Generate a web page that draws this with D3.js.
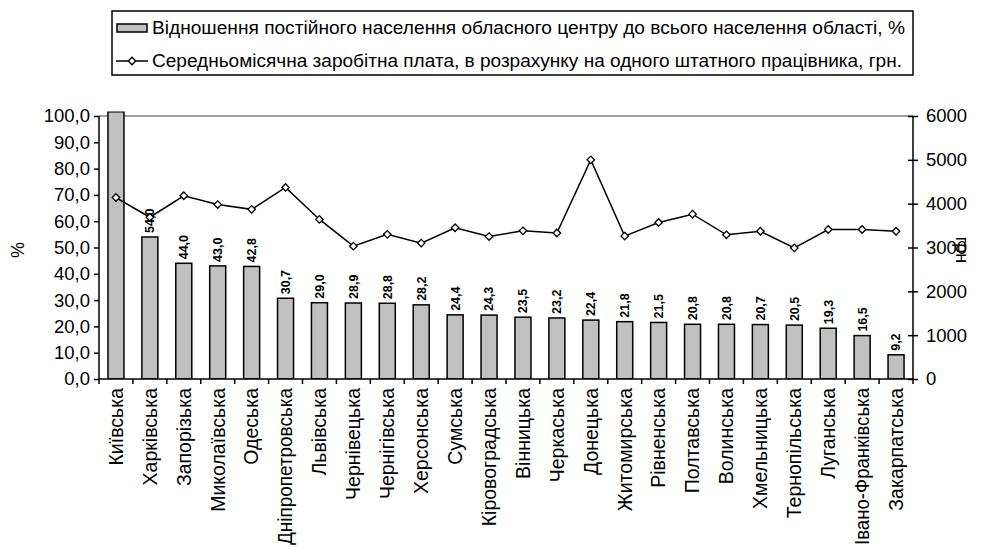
<!DOCTYPE html>
<html><head><meta charset="utf-8">
<script src="https://cdn.jsdelivr.net/npm/d3@7"></script>
<style>
body{margin:0;background:#fff}
text{font-family:"Liberation Sans",Arial,sans-serif;fill:#000}
</style></head>
<body><svg id="c" width="990" height="548"></svg>
<script>
const categories=["Київська","Харківська","Запорізька","Миколаївська","Одеська","Дніпропетровська","Львівська","Чернівецька","Чернігівська","Херсонська","Сумська","Кіровоградська","Вінницька","Черкаська","Донецька","Житомирська","Рівненська","Полтавська","Волинська","Хмельницька","Тернопільська","Луганська","Івано-Франківська","Закарпатська"];
const shareValues=[101.6,54.0,44.0,43.0,42.8,30.7,29.0,28.9,28.8,28.2,24.4,24.3,23.5,23.2,22.4,21.8,21.5,20.8,20.8,20.7,20.5,19.3,16.5,9.2];
const wageValues=[4140,3690,4180,3980,3870,4370,3640,3030,3300,3100,3450,3250,3380,3330,5000,3260,3570,3760,3290,3370,2990,3410,3410,3370];
const leftTicks=[0,10,20,30,40,50,60,70,80,90,100];
const rightTicks=[0,1000,2000,3000,4000,5000,6000];
const legendLabels=["Відношення постійного населення обласного центру до всього населення області, %","Середньомісячна заробітна плата, в розрахунку на одного штатного працівника, грн."];
const leftTitle="%", rightTitle="грн";

const L=99,R=913,T=116,B=379;
const svg=d3.select("#c");
const x=d3.scaleBand().domain(categories).range([L,R]).padding(0);
const yL=d3.scaleLinear().domain([0,100]).range([B,T]);
const yR=d3.scaleLinear().domain([0,6000]).range([B,T]);
const fmt=v=>d3.format(".1f")(v).replace(".",",");
const cx=i=>x(categories[i])+x.bandwidth()/2;

svg.append("line").attr("x1",L).attr("x2",R).attr("y1",T).attr("y2",T).attr("stroke","#808080").attr("stroke-width",1.5);

svg.append("clipPath").attr("id","clipb").append("rect").attr("x",L).attr("y",T-4.5).attr("width",R-L).attr("height",B-T+4.5);

const bw=16;
svg.append("g").attr("clip-path","url(#clipb)").selectAll("rect").data(shareValues).join("rect")
  .attr("x",(d,i)=>cx(i)-bw/2)
  .attr("y",d=>yL(d)).attr("width",bw).attr("height",d=>B-yL(d))
  .attr("fill","#c0c0c0").attr("stroke","#000").attr("stroke-width",1.5);

svg.append("g").selectAll("text").data(shareValues).join("text")
  .attr("transform",(d,i)=>`translate(${cx(i)},${yL(d)-4}) rotate(-90)`)
  .attr("dy","0.35em").attr("font-size",12.5).attr("font-weight","bold")
  .text(d=>d<=100?fmt(d):"");

const line=d3.line().x((d,i)=>cx(i)).y(d=>yR(d));
svg.append("path").datum(wageValues).attr("d",line).attr("fill","none").attr("stroke","#000").attr("stroke-width",1.5);
svg.append("g").selectAll("path").data(wageValues).join("path")
  .attr("d",d3.symbol().type(d3.symbolSquare).size(28))
  .attr("transform",(d,i)=>`translate(${cx(i)},${yR(d)}) rotate(45)`)
  .attr("fill","#fff").attr("stroke","#000").attr("stroke-width",1.3);

const gl=svg.append("g").attr("transform",`translate(${L},0)`)
  .call(d3.axisLeft(yL).tickValues(leftTicks).tickFormat(fmt).tickSize(5).tickPadding(4));
gl.select(".domain").attr("stroke-width",1.5).attr("d",`M0,${B}V${T}`);
gl.selectAll(".tick line").attr("stroke-width",1.5);
gl.selectAll(".tick text").attr("font-size",18.5).attr("font-family","Liberation Sans, Arial");

const gr=svg.append("g").attr("transform",`translate(${R},0)`)
  .call(d3.axisRight(yR).tickValues(rightTicks).tickSize(5).tickPadding(8).tickFormat(d3.format("d")));
gr.select(".domain").attr("stroke-width",1.5).attr("d",`M0,${B}V${T}`);
gr.selectAll(".tick line").attr("stroke-width",1.5).attr("x1",-5);
gr.selectAll(".tick text").attr("font-size",18.5).attr("font-family","Liberation Sans, Arial");

svg.append("line").attr("x1",L).attr("x2",R).attr("y1",B).attr("y2",B).attr("stroke","#000").attr("stroke-width",1.5);
svg.append("g").selectAll("line").data(d3.range(categories.length+1)).join("line")
  .attr("x1",i=>L+i*x.bandwidth()).attr("x2",i=>L+i*x.bandwidth())
  .attr("y1",B).attr("y2",B+5).attr("stroke","#000").attr("stroke-width",1.5);
const maxLen=157;
svg.append("g").selectAll("text").data(categories).join("text")
  .attr("transform",d=>`translate(${x(d)+x.bandwidth()/2},388) rotate(-90)`)
  .attr("text-anchor","end").attr("dy","0.35em").attr("font-size",19.5).text(d=>d)
  .each(function(){ const len=this.getComputedTextLength(); if(len>maxLen){ d3.select(this).attr("textLength",maxLen).attr("lengthAdjust","spacingAndGlyphs"); } });

svg.append("text").attr("transform","translate(18,250) rotate(-90)").attr("text-anchor","middle").attr("dy","0.35em").attr("font-size",18).text(leftTitle);
svg.append("text").attr("transform","translate(962,250) rotate(90)").attr("text-anchor","middle").attr("dy","0.35em").attr("font-size",18).text(rightTitle);

svg.append("rect").attr("x",112).attr("y",11).attr("width",801).attr("height",64).attr("fill","#fff").attr("stroke","#000").attr("stroke-width",1.5);
svg.append("rect").attr("x",117).attr("y",24).attr("width",30).attr("height",8).attr("fill","#c0c0c0").attr("stroke","#000").attr("stroke-width",1.5);
svg.append("line").attr("x1",116).attr("x2",148).attr("y1",61).attr("y2",61).attr("stroke","#000").attr("stroke-width",1.5);
svg.append("path").attr("d",d3.symbol().type(d3.symbolSquare).size(28)).attr("transform","translate(132,61) rotate(45)").attr("fill","#fff").attr("stroke","#000").attr("stroke-width",1.3);
svg.append("text").attr("x",152).attr("y",28).attr("dy","0.35em").attr("font-size",17.5).attr("textLength",753).attr("lengthAdjust","spacingAndGlyphs").text(legendLabels[0]);
svg.append("text").attr("x",152).attr("y",61).attr("dy","0.35em").attr("font-size",17.5).attr("textLength",750).attr("lengthAdjust","spacingAndGlyphs").text(legendLabels[1]);
</script></body></html>
